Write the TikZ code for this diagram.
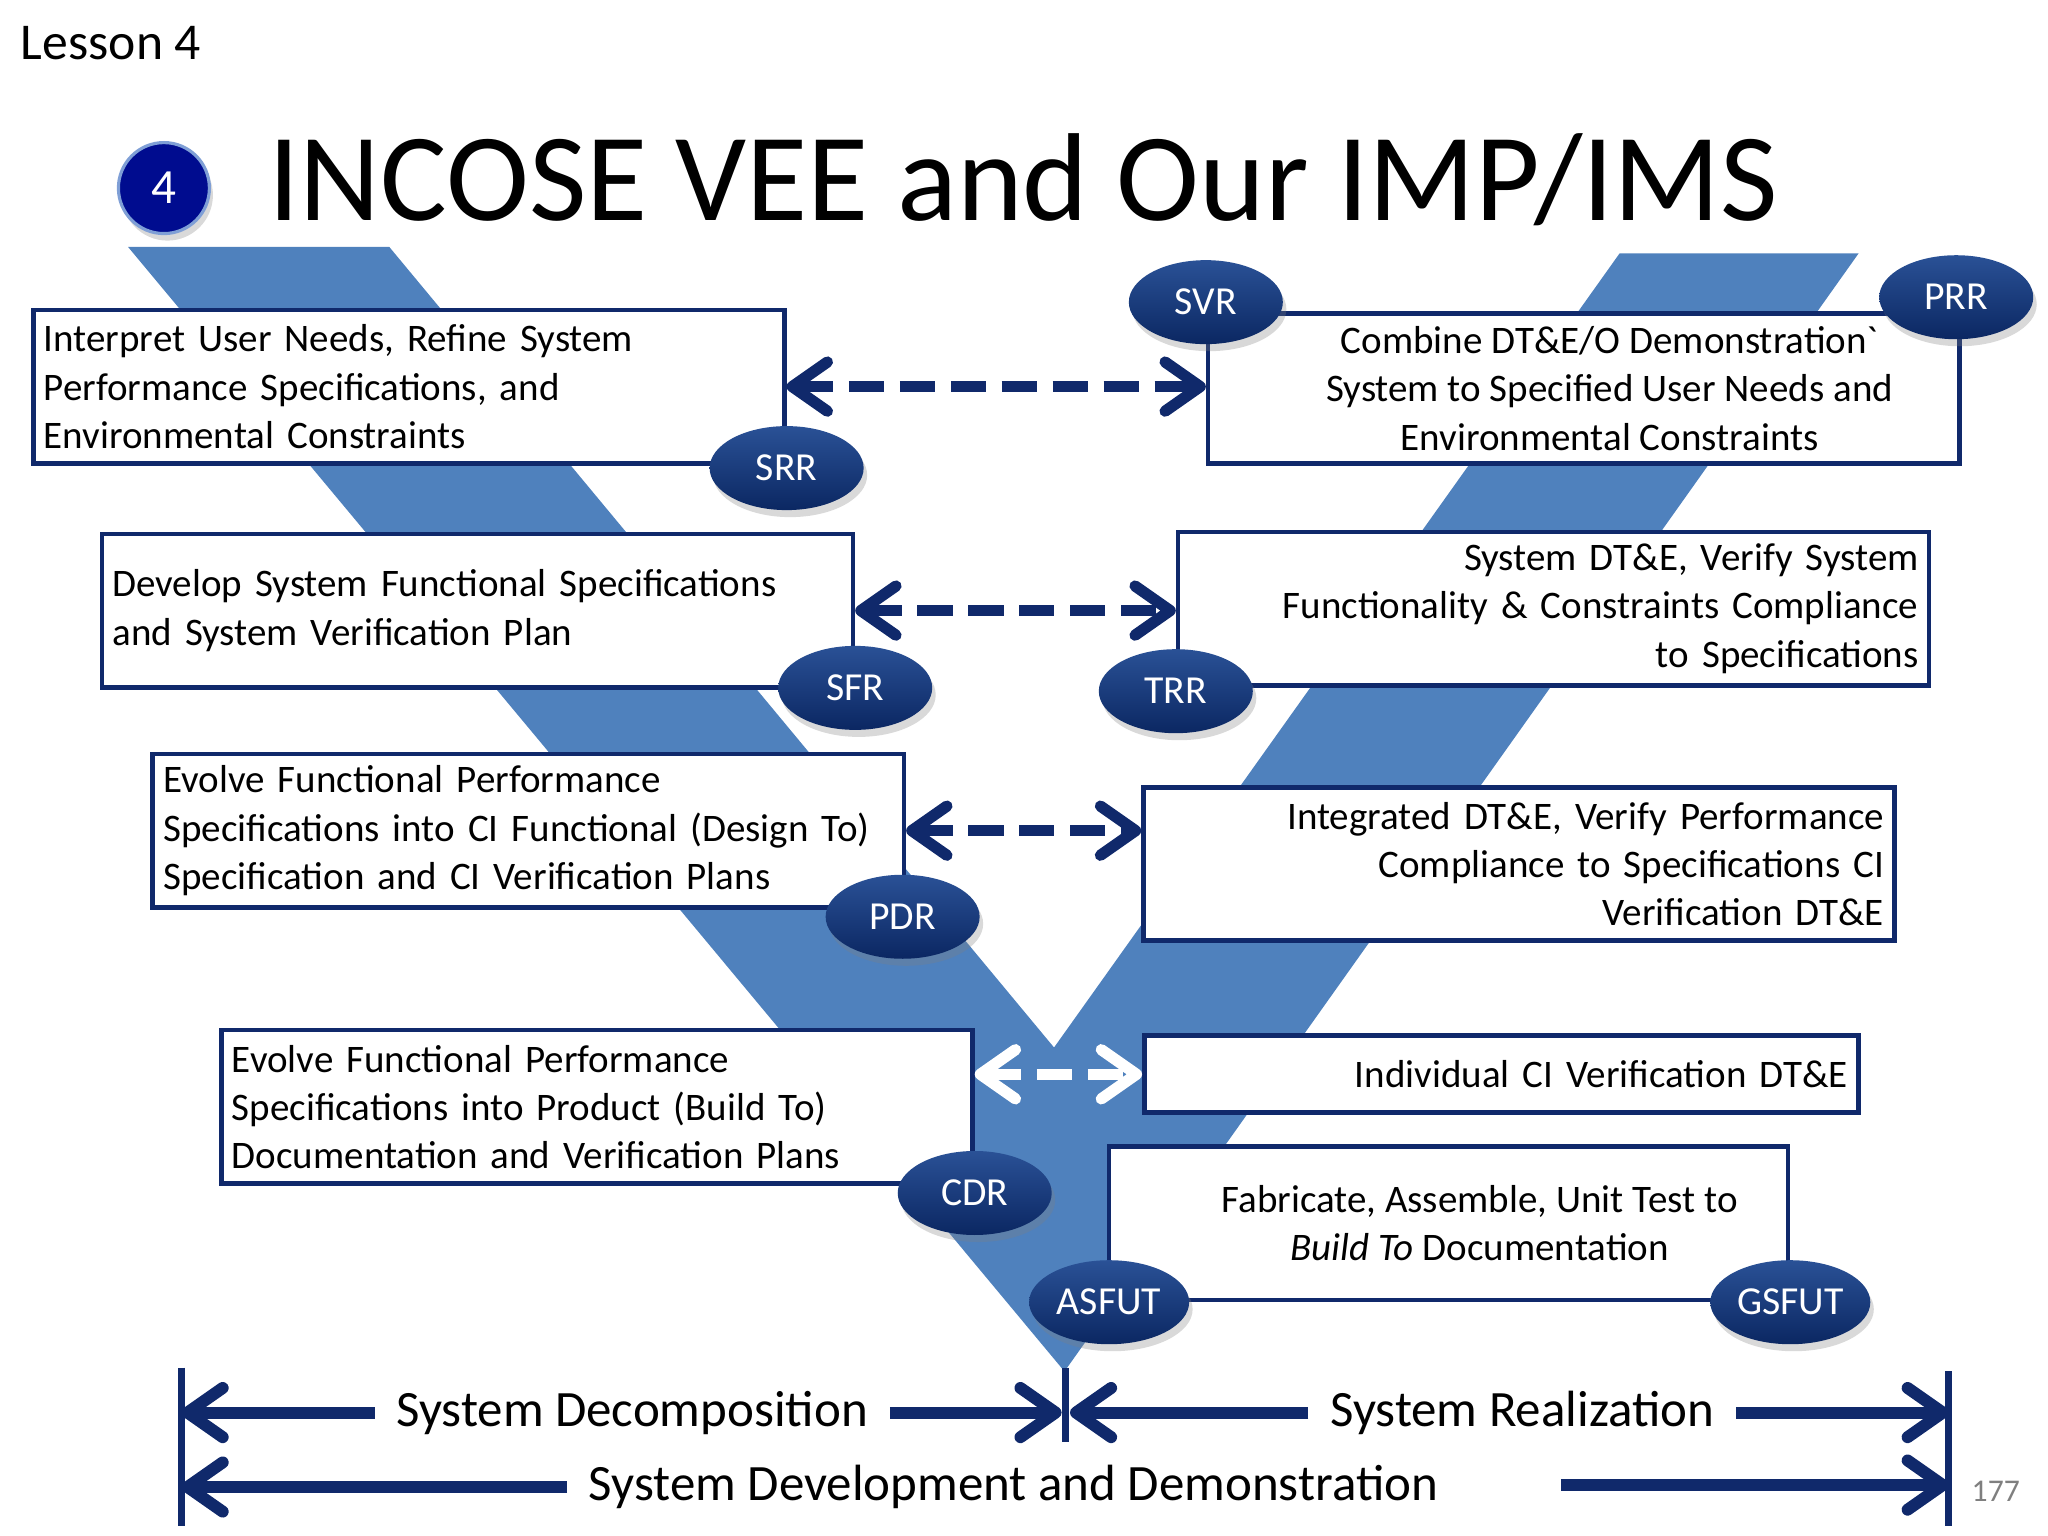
\documentclass[tikz,border=0pt]{standalone}
\usepackage{fontspec}
\setmainfont{Carlito}
\usetikzlibrary{positioning,calc,arrows.meta,shapes.geometric,shadows}
\definecolor{veeblue}{HTML}{4F81BD}
\definecolor{navy}{HTML}{10296B}
\definecolor{ovaltop}{HTML}{2A5196}
\definecolor{ovalbot}{HTML}{0B2762}
\definecolor{badgefill}{HTML}{000C8F}
\definecolor{badgering}{HTML}{7F9FD6}
\definecolor{pagegray}{HTML}{7F7F7F}

\tikzset{
  task/.style={draw=navy, line width=1.3pt, fill=white, minimum width=7.51cm,
    minimum height=1.535cm, inner xsep=3pt, inner ysep=0pt, text width=7.30cm,
    font=\fontsize{11.1}{13.75}\selectfont},
  boxtext/.style={inner sep=0pt, align=center, font=\fontsize{11.1}{13.75}\selectfont},
  review/.style={ellipse, minimum width=1.54cm, minimum height=0.84cm, inner sep=0pt,
    top color=ovaltop, bottom color=ovalbot, text=white,
    font=\fontsize{11.3}{13}\selectfont,
    drop shadow={opacity=0.3, shadow xshift=1pt, shadow yshift=-2pt}},
  link/.style={draw=navy, line width=3.2pt, dash pattern=on 10pt off 4.5pt, <->},
  phase/.style={inner xsep=6pt, font=\fontsize{14.5}{16}\selectfont},
  span/.style={draw=navy, line width=3.4pt, ->},
  bar/.style={draw=navy, line width=1.9pt},
}

\begin{document}
\begin{tikzpicture}[x=0.01306cm, y=-0.01306cm, >={Straight Barb[length=10pt,width=14pt,round]}]
  \useasboundingbox (0,0) rectangle (1568,1176);

  % heading
  \node[anchor=base west, inner sep=0pt, font=\fontsize{14.7}{17}\selectfont] (lesson) at (15.5,45.4) {Lesson 4};
  \node[circle, fill=badgefill, draw=badgering, line width=0.9pt, minimum size=0.91cm, inner sep=0pt,
    text=white, font=\fontsize{14}{16}\selectfont,
    drop shadow={opacity=0.3, shadow xshift=1pt, shadow yshift=-2pt}] (badge) at (125.5,144) {4};
  \node[anchor=base west, inner sep=0pt, font=\fontsize{35.6}{40}\selectfont] (title) at (205,168.5) {INCOSE VEE and Our IMP/IMS};

  % the vee
  \fill[veeblue] (98,189) -- (298,189) -- (807,802) -- (1240,194) -- (1423,194) -- (815,1050) -- cycle;

  % left side tasks
  \node[task, align=left] (b1) at (313,296) {Interpret User Needs, Refine System\\Performance Specifications, and\\Environmental Constraints};
  \node[task, align=left] (b3) at (365.5,467.5) {Develop System Functional Specifications\\and System Verification Plan};
  \node[task, align=left] (b5) at (404.5,636) {Evolve Functional Performance\\Specifications into CI Functional (Design To)\\Specification and CI Verification Plans};
  \node[task, align=left] (b7) at (457,847.5) {Evolve Functional Performance\\Specifications into Product (Build To)\\Documentation and Verification Plans};

  % right side tasks
  \node[task, minimum height=1.50cm] (b2) at (1212.5,297.5) {};
  \node[boxtext] (b2text) at ([xshift=0.26cm]b2.center) {Combine DT\&E/O Demonstration\textasciigrave\\System to Specified User Needs and\\Environmental Constraints};
  \node[task, align=right] (b4) at (1189.5,466) {System DT\&E, Verify System\\Functionality \& Constraints Compliance\\to Specifications};
  \node[task, align=right] (b6) at (1163,661.5) {Integrated DT\&E, Verify Performance\\Compliance to Specifications CI\\Verification DT\&E};
  \node[task, align=right, minimum width=7.14cm, text width=6.93cm, minimum height=0.77cm] (b8) at (1149.5,822.5) {Individual CI Verification DT\&E};
  \node[task, minimum width=6.79cm, text width=6.58cm] (b9) at (1109,936.5) {};
  \node[boxtext] (b9text) at ([xshift=0.31cm]b9.center) {Fabricate, Assemble, Unit Test to\\\textit{Build To} Documentation};

  % reviews
  \node[review] (srr) at ([yshift=-0.7pt]b1.south east) {SRR};
  \node[review] (svr) at ([yshift=2.6pt]b2.north west) {SVR};
  \node[review] (prr) at ([xshift=-1.5pt, yshift=4pt]b2.north east) {PRR};
  \node[review] (sfr) at ([yshift=0.5pt]b3.south east) {SFR};
  \node[review] (trr) at ([yshift=-1pt]b4.south west) {TRR};
  \node[review] (pdr) at ([xshift=-1pt, yshift=-2pt]b5.south east) {PDR};
  \node[review] (cdr) at ([yshift=-2pt]b7.south east) {CDR};
  \node[review, minimum width=1.6cm] (asfut) at ([xshift=0.7pt]b9.south west) {ASFUT};
  \node[review, minimum width=1.6cm] (gsfut) at (b9.south east) {GSFUT};

  % links across the vee
  \draw[link] (b1.east) -- (b1.east -| b2.west);
  \draw[link] (b3.east) -- (b3.east -| b4.west);
  \draw[link] (b5.east) -- (b5.east -| b6.west);
  \draw[link, draw=white] (b8.west -| b7.east) -- (b8.west);

  % phase spans
  \coordinate (lefttop) at (139,1047);
  \coordinate (leftbot) at (139,1168);
  \coordinate (midtop) at (816,1047);
  \coordinate (midbot) at (816,1104);
  \coordinate (righttop) at (1492,1050);
  \coordinate (rightbot) at (1492,1168);
  \draw[bar] (lefttop) -- (leftbot);
  \draw[bar] (midtop) -- (midbot);
  \draw[bar] (righttop) -- (rightbot);

  \node[phase] (decomp) at (484,1081.5) {System Decomposition};
  \node[phase] (realize) at (1165.5,1081.5) {System Realization};
  \node[phase] (develop) at (776,1138.5) {System Development and Demonstration};
  \coordinate (devtail) at (1195,1137);

  \draw[span] (decomp.west) -- (decomp.west -| lefttop);
  \draw[span, shorten >=1.2pt] (decomp.east) -- (decomp.east -| midtop);
  \draw[span, shorten >=1.2pt] (realize.west) -- (realize.west -| midtop);
  \draw[span] (realize.east) -- (realize.east -| righttop);
  \draw[span] (develop.west) -- (develop.west -| leftbot);
  \draw[span] (devtail) -- (devtail -| rightbot);

  \node[text=pagegray, font=\fontsize{9}{10}\selectfont] (pageno) at (1528,1142) {177};
\end{tikzpicture}
\end{document}
